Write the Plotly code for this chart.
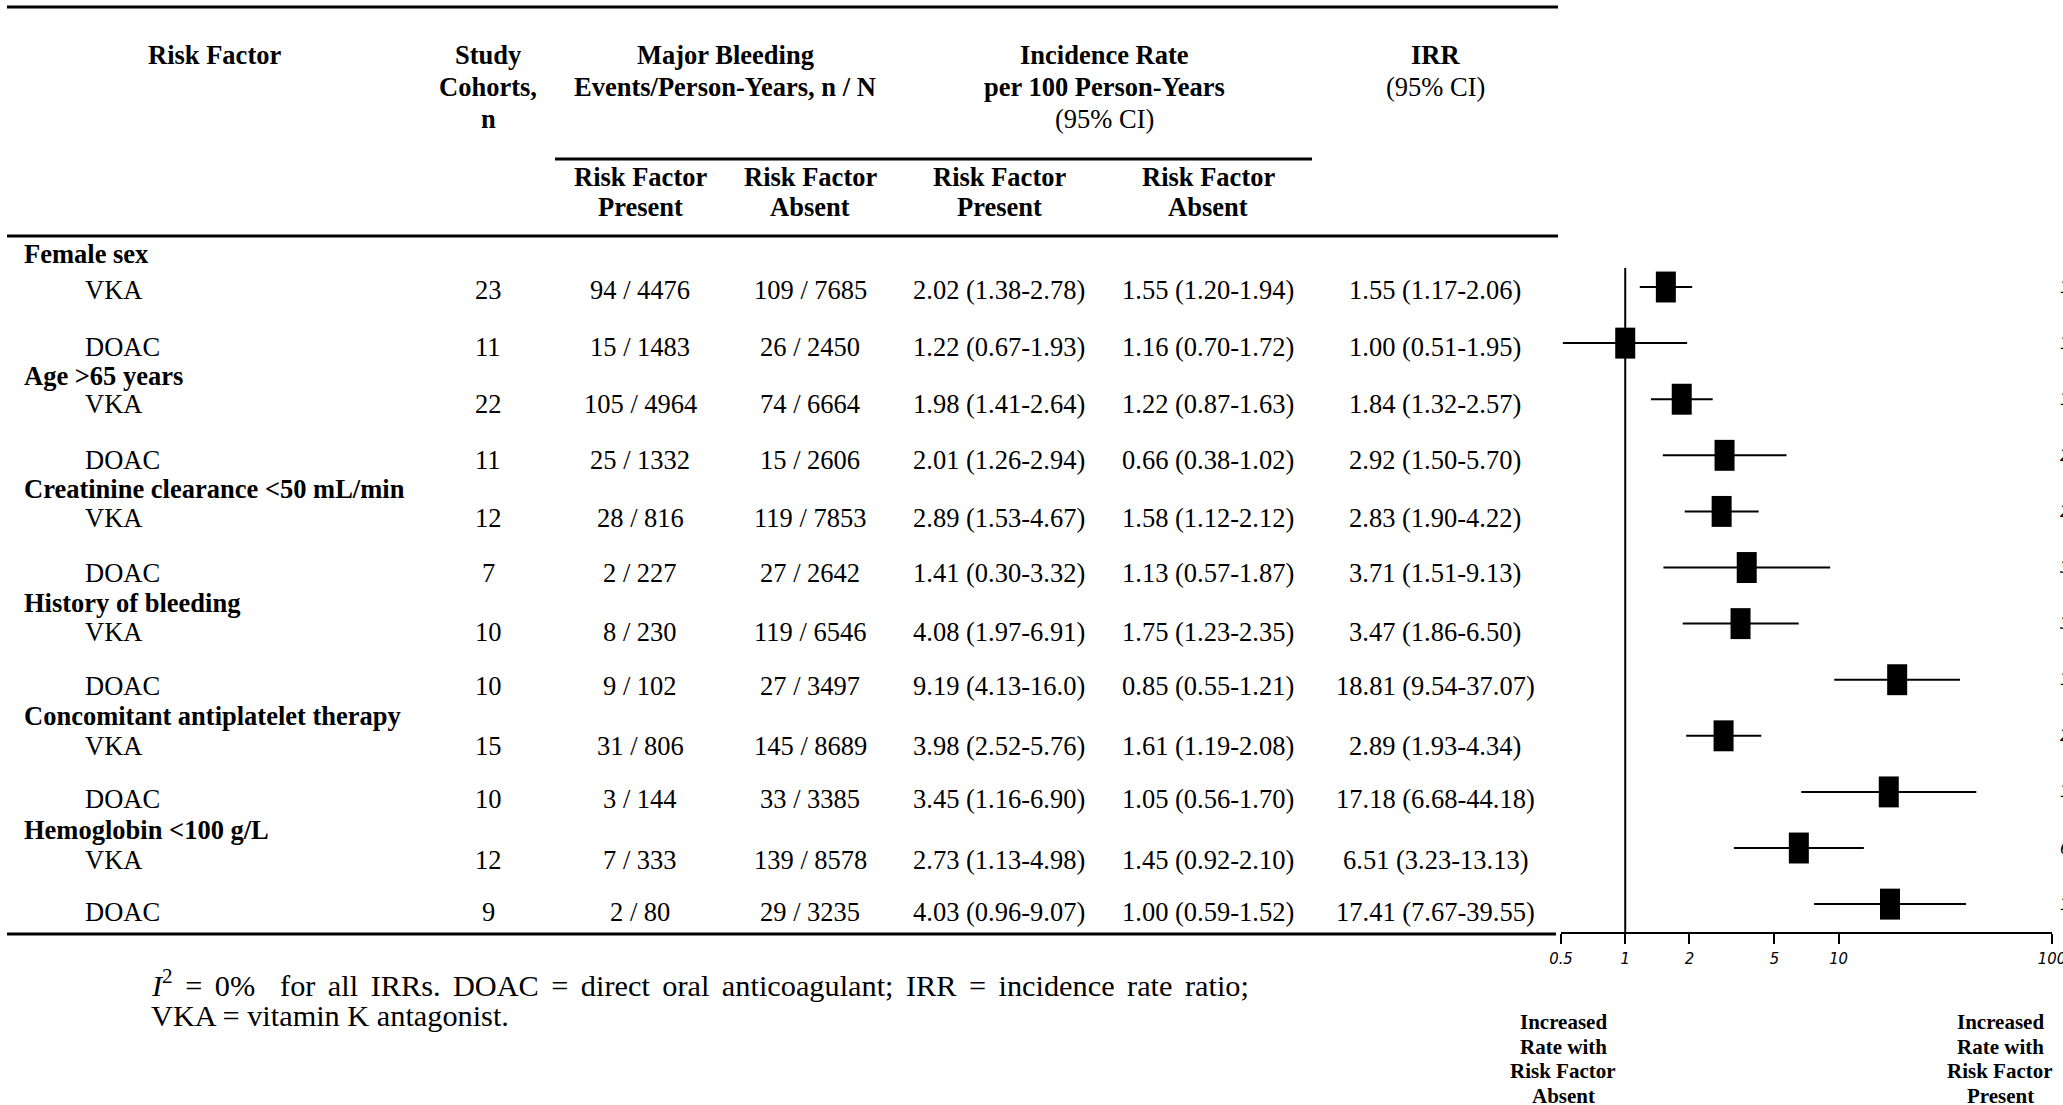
import math
import plotly.graph_objects as go

# ---------------- data ----------------
groups = ["Female sex", "Age >65 years", "Creatinine clearance <50 mL/min",
          "History of bleeding", "Concomitant antiplatelet therapy", "Hemoglobin <100 g/L"]
drugs = ["VKA", "DOAC"]
cohorts = [23, 11, 22, 11, 12, 7, 10, 10, 15, 10, 12, 9]
events_present = ["94 / 4476", "15 / 1483", "105 / 4964", "25 / 1332", "28 / 816", "2 / 227",
                  "8 / 230", "9 / 102", "31 / 806", "3 / 144", "7 / 333", "2 / 80"]
events_absent = ["109 / 7685", "26 / 2450", "74 / 6664", "15 / 2606", "119 / 7853", "27 / 2642",
                 "119 / 6546", "27 / 3497", "145 / 8689", "33 / 3385", "139 / 8578", "29 / 3235"]
ir_present = ["2.02 (1.38-2.78)", "1.22 (0.67-1.93)", "1.98 (1.41-2.64)", "2.01 (1.26-2.94)",
              "2.89 (1.53-4.67)", "1.41 (0.30-3.32)", "4.08 (1.97-6.91)", "9.19 (4.13-16.0)",
              "3.98 (2.52-5.76)", "3.45 (1.16-6.90)", "2.73 (1.13-4.98)", "4.03 (0.96-9.07)"]
ir_absent = ["1.55 (1.20-1.94)", "1.16 (0.70-1.72)", "1.22 (0.87-1.63)", "0.66 (0.38-1.02)",
             "1.58 (1.12-2.12)", "1.13 (0.57-1.87)", "1.75 (1.23-2.35)", "0.85 (0.55-1.21)",
             "1.61 (1.19-2.08)", "1.05 (0.56-1.70)", "1.45 (0.92-2.10)", "1.00 (0.59-1.52)"]
irr = [1.55, 1.00, 1.84, 2.92, 2.83, 3.71, 3.47, 18.81, 2.89, 17.18, 6.51, 17.41]
irr_lo = [1.17, 0.51, 1.32, 1.50, 1.90, 1.51, 1.86, 9.54, 1.93, 6.68, 3.23, 7.67]
irr_hi = [2.06, 1.95, 2.57, 5.70, 4.22, 9.13, 6.50, 37.07, 4.34, 44.18, 13.13, 39.55]
tick_vals = [0.5, 1, 2, 5, 10, 100]
tick_text = ["0.5", "1", "2", "5", "10", "100"]

# ---------------- layout helpers ----------------
W, H = 2063, 1105
def px(x):
    return x / W
def py(y):
    return 1 - y / H

SERIF = "Liberation Serif, Times New Roman, serif"
NARROW = "Liberation Sans Narrow, Arial Narrow, DejaVu Sans Condensed, Liberation Sans, sans-serif"
FS = 26.5

rows = list(range(len(irr)))
irr_txt = ["%.2f (%.2f-%.2f)" % (a, b, c) for a, b, c in zip(irr, irr_lo, irr_hi)]

fig = go.Figure()
fig.add_trace(go.Scatter(
    x=irr, y=rows, mode="markers",
    marker=dict(symbol="line-ns", size=22.1, color="black",
                line=dict(color="black", width=20)),
    error_x=dict(type="data", symmetric=False,
                 array=[h - v for h, v in zip(irr_hi, irr)],
                 arrayminus=[v - l for v, l in zip(irr, irr_lo)],
                 color="black", thickness=2, width=0),
    hoverinfo="skip", showlegend=False,
))

ann = []
def text(x, y, s, size=FS, anchor="center", bold=False, family=SERIF):
    if bold:
        s = "<b>" + s + "</b>"
    ann.append(dict(x=px(x), y=py(y), xref="paper", yref="paper", text=s, showarrow=False,
                    xanchor=anchor, yanchor="middle",
                    font=dict(family=family, size=size, color="black")))

# column centres
C_STUDY, C_EP, C_EA, C_IP, C_IA, C_IRR = 488, 640, 810, 999, 1208, 1435

# header
text(214, 55, "Risk Factor", bold=True)
text(C_STUDY, 55, "Study", bold=True)
text(C_STUDY, 87, "Cohorts,", bold=True)
text(C_STUDY, 119, "n", bold=True)
text(725, 55, "Major Bleeding", bold=True)
text(725, 87, "Events/Person-Years, n / N", bold=True)
text(1104, 55, "Incidence Rate", bold=True)
text(1104, 87, "per 100 Person-Years", bold=True)
text(1104, 119, "(95% CI)")
text(C_IRR, 55, "IRR", bold=True)
text(C_IRR, 87, "(95% CI)")
for c, w in [(C_EP, "Present"), (C_EA, "Absent"), (C_IP, "Present"), (C_IA, "Absent")]:
    text(c, 177, "Risk Factor", bold=True)
    text(c, 207, w, bold=True)

# body
prev_doac = None
for i in range(len(irr)):
    g, k = divmod(i, 2)
    y = (290 + 114 * g) if k == 0 else (347 + 113 * g)
    if k == 0:
        hy = (y - 36) if prev_doac is None else (prev_doac + y) / 2
        text(22, hy, groups[g], anchor="left", bold=True)
    else:
        prev_doac = y
    text(83, y, drugs[k], anchor="left")
    text(C_STUDY, y, str(cohorts[i]))
    text(C_EP, y, events_present[i])
    text(C_EA, y, events_absent[i])
    text(C_IP, y, ir_present[i])
    text(C_IA, y, ir_absent[i])
    text(C_IRR, y, irr_txt[i])
    # IRR labels to the right of the forest plot (cut off by the page edge)
    ann.append(dict(x=px(2058), y=rows[i], xref="paper", yref="y", text=irr_txt[i],
                    showarrow=False, xanchor="left", yanchor="middle",
                    font=dict(family=NARROW, size=16.5, color="black", style="italic")))

# direction labels
for cx, last in [(1563, "Absent"), (2000, "Present")]:
    for j, s in enumerate(["Increased", "Rate with", "Risk Factor", last]):
        text(cx, 1022 + 24.7 * j, s, size=21, bold=True)

# footnote (first line is justified in the original -> wider word spacing)
line1 = ('<span style="word-spacing:4.9px"><i>I</i><sup>2</sup> = 0%\u00a0 for all IRRs. '
         'DOAC = direct oral anticoagulant; IRR = incidence rate ratio;</span>')
text(149, 984, line1, size=30.3, anchor="left")
text(149, 1016, "VKA = vitamin K antagonist.", size=30.3, anchor="left")

# table rules
shapes = []
for y0, xa, xb in [(7, 7, 1558), (159, 555, 1312), (236, 7, 1558), (934, 7, 1556)]:
    shapes.append(dict(type="line", xref="paper", yref="paper", x0=px(xa), x1=px(xb),
                       y0=py(y0), y1=py(y0), line=dict(color="black", width=3)))
# line of no effect
shapes.append(dict(type="line", xref="x", yref="y", x0=1, x1=1, y0=-0.34, y1=11.497,
                   line=dict(color="black", width=2)))

fig.update_layout(
    width=W, height=H, margin=dict(l=0, r=0, t=0, b=0, autoexpand=False),
    paper_bgcolor="white", plot_bgcolor="white",
    annotations=ann, shapes=shapes, showlegend=False,
    xaxis=dict(type="log", range=[math.log10(0.5), math.log10(100)],
               domain=[px(1561), px(2052)], anchor="y", automargin=False,
               showline=True, linecolor="black", linewidth=2,
               ticks="outside", ticklen=10, tickwidth=2, tickcolor="black",
               tickvals=tick_vals, ticktext=tick_text, ticklabeloverflow="allow",
               tickfont=dict(family=NARROW, size=16.5, color="black", style="italic"),
               showgrid=False, zeroline=False, fixedrange=True),
    yaxis=dict(domain=[py(932), py(262)], range=[11.497, -0.446], automargin=False,
               visible=False, showgrid=False, zeroline=False, fixedrange=True),
)

fig.write_html("out.html", config={"displayModeBar": False},
               post_script="document.body.style.margin='0px';document.body.style.overflow='hidden';")
